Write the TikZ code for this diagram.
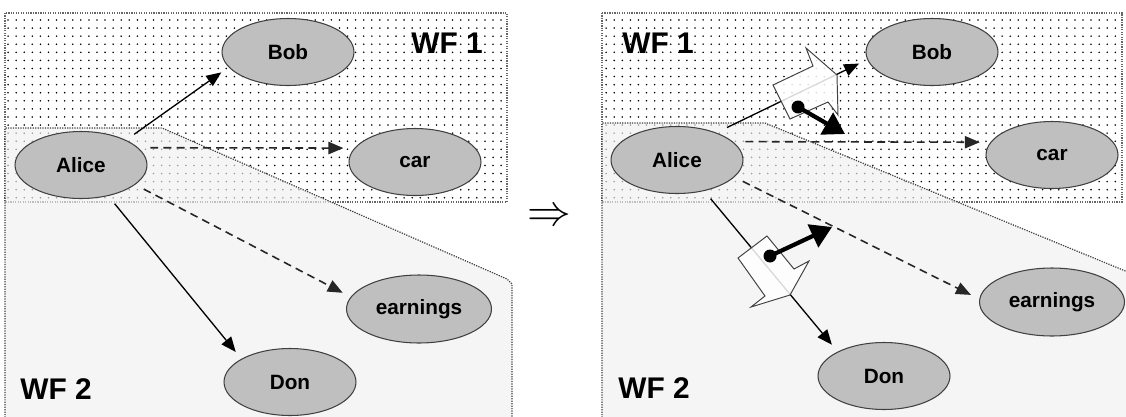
\documentclass[tikz,border=0pt]{standalone}
\usepackage{fontspec}
\setmainfont{Liberation Sans}
\usetikzlibrary{shapes.geometric,arrows.meta,patterns.meta}

\begin{document}
\begin{tikzpicture}[x=0.02cm, y=-0.02cm,
	ent/.style={ellipse, draw=black!75, fill=black!25, line width=0.6pt, minimum width=2.64cm, minimum height=1.34cm, inner sep=0pt, outer sep=5.5pt, font=\fontsize{11.8}{13}\selectfont\bfseries},
	wide/.style={minimum width=2.9cm, minimum height=1.36cm},
	rel/.style={line width=0.75pt, -{Triangle[length=8.5pt,width=7pt]}},
	drel/.style={rel, line width=0.9pt, draw=black!85, dash pattern=on 4.5pt off 3pt},
	wf/.style={font=\fontsize{17}{18}\selectfont\bfseries},
	wfone/.style={pattern={Dots[distance=4.6pt,radius=0.5pt]}, draw=black!60, line width=0.7pt, dash pattern=on 0.7pt off 0.7pt},
	wftwo/.style={fill=black!6, fill opacity=0.65, draw=black!75, draw opacity=1, line width=0.7pt, dash pattern=on 0.7pt off 0.7pt},
	blk/.style={draw=black!75, fill=white, fill opacity=0.85, line width=0.55pt, line join=miter},
	blob/.style={circle, fill=black, inner sep=0pt, minimum size=0.26cm},
	push/.style={line width=2.4pt, -{Triangle[length=12pt,width=14pt]}}]
	\useasboundingbox (0,0) rectangle (1126,416);

	% before
	\draw[wfone] (5,13) rectangle (507,202);
	\draw[wftwo] (5,430) -- (5,128) -- (162,128) -- (507,279) -- (512,284) -- (512,430);
	\node[ent] (alice) at (81,165) {Alice};
	\node[ent] (bob) at (288,52) {Bob};
	\node[ent] (car) at (415,162) {car};
	\node[ent, wide] (earn) at (419,309) {earnings};
	\node[ent] (don) at (290,382) {Don};
	\draw[rel] (alice.30) -- (bob.197);
	\draw[drel] (alice.14) -- (car.169);
	\draw[drel] (alice.-21) -- (earn.168);
	\draw[rel] (alice.-49) -- (don.151);
	\node[wf] (wfa) at (447,43) {WF 1};
	\node[wf] (wfb) at (56,389) {WF 2};

	\node[font=\fontsize{29}{30}\selectfont] (impl) at (549,217) {$\Rightarrow$};

	% after
	\draw[wfone] (602,13) rectangle (1122,202);
	\draw[wftwo] (602,430) -- (602,123) -- (765,123) -- (1140,277) -- (1140,430);
	\node[ent] (alice2) at (677,160) {Alice};
	\node[ent] (bob2) at (932,52) {Bob};
	\node[ent] (car2) at (1052,155) {car};
	\node[ent, wide] (earn2) at (1052,302) {earnings};
	\node[ent] (don2) at (884,376) {Don};
	\draw[rel] (alice2.33) -- (bob2.189);
	\draw[drel] (alice2.15) -- (car2.170);
	\draw[drel] (alice2.-18) -- (earn2.175);
	\draw[rel] (alice2.-49) -- (don2.149);
	\node[wf] (wfc) at (658,43) {WF 1};
	\node[wf] (wfd) at (654,388) {WF 2};

	\draw[blk] (773,85) -- (813,66) -- (806,48) -- (837,75) -- (838,115) -- (828,102) -- (790,119) -- cycle;
	\draw[blk] (738,258) -- (767,236) -- (794,269) -- (809,261) -- (790,295) -- (751,307) -- (765,296) -- cycle;
	\node[blob] (d1) at (798,107) {};
	\coordinate (t1) at (845,134);
	\draw[push] (d1.center) -- (t1);
	\node[blob] (d2) at (770,256) {};
	\coordinate (t2) at (832,227);
	\draw[push] (d2.center) -- (t2);
\end{tikzpicture}
\end{document}
